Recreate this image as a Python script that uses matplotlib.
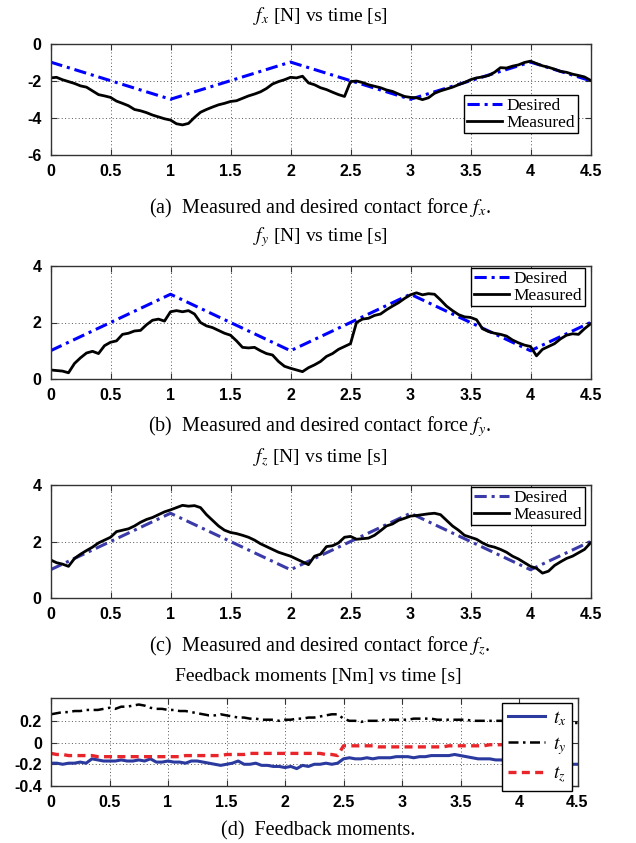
import numpy as np
import matplotlib
matplotlib.use("Agg")
import matplotlib.pyplot as plt

plt.rcParams['axes.unicode_minus'] = False
plt.rcParams['mathtext.fontset'] = 'stix'

# time axis of the measurements [s]
t = np.round(np.arange(0, 4.501, 0.05), 2)

# desired force trajectories (knots)
t_des = [0, 1, 2, 3, 4, 4.5]
fx_des = [-1, -3, -1, -3, -1, -2]
fy_des = [1, 3, 1, 3, 1, 2]
fz_des = [1, 3, 1, 3, 1, 2]

# measured forces [N]
fx_meas = [-1.85, -1.82, -1.95, -2.05, -2.15, -2.28, -2.35, -2.55, -2.75, -2.82,
           -2.90, -3.10, -3.22, -3.35, -3.55, -3.62, -3.72, -3.85, -3.95, -4.05,
           -4.12, -4.32, -4.38, -4.30, -3.98, -3.70, -3.55, -3.42, -3.30, -3.22,
           -3.12, -3.08, -2.95, -2.82, -2.72, -2.60, -2.42, -2.18, -2.05, -1.95,
           -1.82, -1.85, -1.76, -2.12, -2.22, -2.38, -2.48, -2.62, -2.75, -2.85,
           -2.05, -2.02, -2.10, -2.22, -2.30, -2.38, -2.50, -2.58, -2.72, -2.85,
           -2.90, -2.92, -3.02, -2.92, -2.68, -2.55, -2.45, -2.35, -2.22, -2.10,
           -1.95, -1.85, -1.80, -1.72, -1.55, -1.30, -1.32, -1.22, -1.15, -1.02,
           -0.95, -1.08, -1.20, -1.28, -1.38, -1.50, -1.55, -1.65, -1.72, -1.80,
           -1.98]
fy_meas = [0.32, 0.30, 0.28, 0.22, 0.55, 0.75, 0.92, 0.98, 0.90, 1.18,
           1.30, 1.35, 1.58, 1.62, 1.70, 1.72, 1.92, 2.08, 2.12, 2.05,
           2.38, 2.42, 2.38, 2.42, 2.30, 2.00, 1.88, 1.82, 1.72, 1.62,
           1.55, 1.35, 1.12, 1.10, 1.12, 1.00, 0.90, 0.85, 0.62, 0.45,
           0.38, 0.32, 0.26, 0.40, 0.50, 0.62, 0.80, 0.90, 1.05, 1.15,
           1.25, 2.00, 2.12, 2.15, 2.25, 2.30, 2.45, 2.58, 2.70, 2.85,
           2.98, 3.05, 2.98, 3.02, 3.00, 2.80, 2.58, 2.42, 2.28, 2.20,
           2.18, 2.10, 1.78, 1.68, 1.62, 1.58, 1.52, 1.38, 1.28, 1.20,
           1.15, 0.82, 1.05, 1.15, 1.25, 1.42, 1.55, 1.60, 1.58, 1.78,
           1.95]
fz_meas = [1.35, 1.25, 1.20, 1.12, 1.40, 1.55, 1.68, 1.80, 1.95, 2.05,
           2.15, 2.35, 2.40, 2.45, 2.55, 2.68, 2.78, 2.85, 2.95, 3.05,
           3.12, 3.20, 3.28, 3.25, 3.27, 3.20, 2.95, 2.75, 2.55, 2.40,
           2.32, 2.28, 2.22, 2.15, 2.05, 1.92, 1.82, 1.72, 1.62, 1.55,
           1.48, 1.38, 1.28, 1.18, 1.48, 1.55, 1.82, 1.85, 1.95, 2.15,
           2.18, 2.08, 2.10, 2.12, 2.22, 2.38, 2.55, 2.62, 2.75, 2.82,
           2.90, 2.92, 2.95, 2.98, 3.00, 2.95, 2.75, 2.55, 2.40, 2.22,
           2.15, 2.08, 1.95, 1.85, 1.80, 1.72, 1.62, 1.48, 1.38, 1.25,
           1.12, 1.05, 0.88, 0.95, 1.15, 1.28, 1.40, 1.48, 1.60, 1.72,
           1.95]

# feedback moments [Nm]
tx = [-0.19, -0.19, -0.20, -0.19, -0.19, -0.18, -0.19, -0.15, -0.16, -0.17,
      -0.17, -0.17, -0.16, -0.17, -0.17, -0.16, -0.17, -0.15, -0.18, -0.18,
      -0.17, -0.18, -0.18, -0.19, -0.17, -0.17, -0.18, -0.19, -0.20, -0.21,
      -0.20, -0.19, -0.17, -0.20, -0.20, -0.19, -0.21, -0.21, -0.22, -0.22,
      -0.23, -0.22, -0.24, -0.21, -0.22, -0.20, -0.20, -0.19, -0.20, -0.19,
      -0.15, -0.14, -0.15, -0.15, -0.14, -0.15, -0.14, -0.14, -0.14, -0.13,
      -0.13, -0.13, -0.14, -0.13, -0.13, -0.12, -0.12, -0.12, -0.12, -0.11,
      -0.12, -0.13, -0.14, -0.15, -0.15, -0.15, -0.16, -0.16, -0.17, -0.17,
      -0.18, -0.18, -0.18, -0.19, -0.19, -0.19, -0.19, -0.20, -0.20, -0.20,
      -0.20]
ty = [0.26, 0.27, 0.28, 0.28, 0.29, 0.29, 0.30, 0.30, 0.30, 0.31,
      0.32, 0.31, 0.33, 0.33, 0.34, 0.35, 0.34, 0.32, 0.31, 0.31,
      0.30, 0.30, 0.29, 0.29, 0.28, 0.27, 0.26, 0.25, 0.25, 0.26,
      0.25, 0.24, 0.23, 0.23, 0.22, 0.22, 0.21, 0.21, 0.21, 0.20,
      0.21, 0.21, 0.22, 0.22, 0.23, 0.23, 0.24, 0.25, 0.26, 0.26,
      0.22, 0.20, 0.20, 0.19, 0.20, 0.20, 0.20, 0.21, 0.21, 0.21,
      0.21, 0.21, 0.22, 0.22, 0.22, 0.22, 0.21, 0.21, 0.21, 0.21,
      0.21, 0.21, 0.20, 0.20, 0.20, 0.20, 0.20, 0.20, 0.19, 0.19,
      0.19, 0.19, 0.19, 0.19, 0.19, 0.18, 0.18, 0.18, 0.18, 0.18,
      0.18]
tz = [-0.10, -0.11, -0.11, -0.12, -0.12, -0.12, -0.12, -0.12, -0.13, -0.13,
      -0.13, -0.13, -0.13, -0.13, -0.13, -0.13, -0.13, -0.13, -0.13, -0.13,
      -0.13, -0.13, -0.13, -0.12, -0.12, -0.12, -0.12, -0.12, -0.12, -0.12,
      -0.11, -0.11, -0.11, -0.11, -0.10, -0.10, -0.10, -0.10, -0.10, -0.10,
      -0.10, -0.10, -0.10, -0.10, -0.10, -0.10, -0.10, -0.11, -0.11, -0.12,
      -0.03, -0.03, -0.03, -0.03, -0.03, -0.03, -0.04, -0.04, -0.04, -0.04,
      -0.04, -0.04, -0.04, -0.04, -0.04, -0.04, -0.04, -0.04, -0.03, -0.03,
      -0.03, -0.03, -0.03, -0.03, -0.03, -0.02, -0.02, -0.02, -0.02, -0.02,
      -0.02, -0.02, -0.02, -0.02, -0.02, -0.02, -0.01, -0.01, -0.01, -0.01,
      -0.01]

xticks = [0, 0.5, 1, 1.5, 2, 2.5, 3, 3.5, 4, 4.5]
xticklabels = ['0', '0.5', '1', '1.5', '2', '2.5', '3', '3.5', '4', '4.5']

W, H = 636, 843
fig = plt.figure(figsize=(W / 100, H / 100), dpi=100)

SERIF = 'Liberation Serif'
SANS = 'Liberation Sans'
TITLE_FS = 14
CAP_FS = 14.5


def px_axes(x0, y0, x1, y1):
    # pixel box (top-left origin) -> figure axes
    return fig.add_axes([x0 / W, 1 - y1 / H, (x1 - x0) / W, (y1 - y0) / H])


def style(ax, ylim, yticks, xmax=4.5):
    ax.set_xlim(0, xmax)
    ax.set_ylim(*ylim)
    ax.set_xticks(xticks)
    ax.set_xticklabels(xticklabels)
    ax.set_yticks(yticks)
    ax.set_yticklabels([('%g' % v) for v in yticks])
    ax.grid(True, linestyle=(0, (1, 2.5)), color='#555555', linewidth=0.7)
    ax.tick_params(direction='in', length=4, width=0.8, top=True, right=True,
                   labelsize=11.5, pad=6.5, color='#333333')
    for lab in ax.get_xticklabels() + ax.get_yticklabels():
        lab.set_fontfamily(SANS)
        lab.set_fontweight('bold')
    for s in ax.spines.values():
        s.set_color('#333333')
        s.set_linewidth(1.0)


def legend(ax, handles, labels, corner, size=12.5, **kw):
    leg = ax.legend(handles, labels, loc='upper right',
                    bbox_to_anchor=(corner[0] / W, 1 - corner[1] / H),
                    bbox_transform=fig.transFigure, fancybox=False,
                    edgecolor='black', framealpha=1, borderaxespad=0,
                    prop={'family': SERIF, 'size': size}, **kw)
    leg.get_frame().set_linewidth(1.0)
    return leg


def force_panel(box, title, title_y, caption, caption_y, meas, des, des_color, leg_corner):
    ax = px_axes(*box)
    l1, = ax.plot(t_des, des, color=des_color, linewidth=2.2,
                  dashes=(4, 1.6, 1, 1.6))
    l2, = ax.plot(t, meas, color='black', linewidth=2.0)
    fig.text(320 / W, 1 - title_y / H, title, ha='center', va='center',
             family=SERIF, fontsize=TITLE_FS)
    fig.text(320 / W, 1 - caption_y / H, caption, ha='center', va='center',
             family=SERIF, fontsize=CAP_FS)
    legend(ax, [l1, l2], ['Desired', 'Measured'], leg_corner,
           handlelength=2.0, handletextpad=0.3, labelspacing=0.05,
           borderpad=0.15)
    return ax


ax1 = force_panel((50.5, 43.5, 590.5, 155), r'$f_x$ [N] vs time [s]', 16,
                  r'(a)  Measured and desired contact force $f_x$.', 208,
                  fx_meas, fx_des, '#0000ff', (578, 95))
style(ax1, (-6, 0), [-6, -4, -2, 0])

ax2 = force_panel((50.5, 266, 590.5, 379), r'$f_y$ [N] vs time [s]', 237,
                  r'(b)  Measured and desired contact force $f_y$.', 427,
                  fy_meas, fy_des, '#0000ff', (585, 268))
style(ax2, (0, 4), [0, 2, 4])

ax3 = force_panel((50.5, 485, 590.5, 598), r'$f_z$ [N] vs time [s]', 458,
                  r'(c)  Measured and desired contact force $f_z$.', 646,
                  fz_meas, fz_des, '#3a3aa8', (585, 487))
style(ax3, (0, 4), [0, 2, 4])

# moments panel
ax4 = px_axes(51, 698, 577.5, 786)
m1, = ax4.plot(t, tx, color='#2b3a9e', linewidth=2.2)
m2, = ax4.plot(t, ty, color='black', linewidth=1.8, dashes=(4, 1.8, 1, 1.8))
m3, = ax4.plot(t, tz, color='#e8252b', linewidth=2.4, dashes=(2.4, 1.6))
style(ax4, (-0.4, 0.41), [-0.4, -0.2, 0, 0.2])
fig.text(318 / W, 1 - 677 / H, 'Feedback moments [Nm] vs time [s]',
         ha='center', va='center', family=SERIF, fontsize=TITLE_FS)
fig.text(318 / W, 1 - 831 / H, '(d)  Feedback moments.',
         ha='center', va='center', family=SERIF, fontsize=CAP_FS)
leg4 = legend(ax4, [m1, m2, m3], ['$t_x$', '$t_y$', '$t_z$'], (572, 703),
              size=14, handlelength=1.9, handletextpad=0.4,
              labelspacing=0.38, borderpad=0.3)

fig.savefig('out.png', dpi=100)
